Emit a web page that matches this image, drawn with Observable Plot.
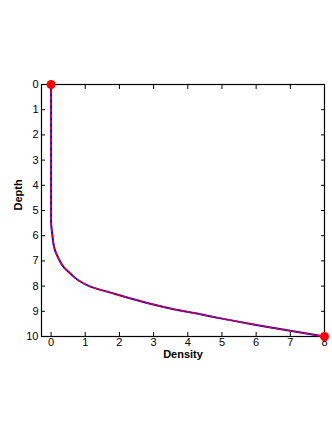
<!DOCTYPE html>
<html>
<head>
<meta charset="utf-8">
<script src="https://cdn.jsdelivr.net/npm/d3@7"></script>
<script src="https://cdn.jsdelivr.net/npm/@observablehq/plot@0.6"></script>
<style>
  html, body { margin: 0; padding: 0; background: #fff; }
</style>
</head>
<body>
<div id="chart"></div>
<script>
const depth   = [0, 1, 2, 3, 4, 5, 5.4, 6, 6.6, 6.85, 7.25, 7.51, 7.78, 8.02, 8.26, 8.6, 8.89, 9.12, 9.29, 9.54, 10];
const density = [0, 0, 0, 0, 0, 0, 0, 0.04, 0.12, 0.2, 0.37, 0.57, 0.81, 1.15, 1.74, 2.62, 3.49, 4.37, 5, 6, 8];
const endDepth   = [0, 10];
const endDensity = [0, 8];
const xTicks = [0, 1, 2, 3, 4, 5, 6, 7, 8];
const yTicks = [0, 1, 2, 3, 4, 5, 6, 7, 8, 9, 10];
const xLabel = "Density";
const yLabel = "Depth";

const curve = depth.map((d, i) => ({depth: d, density: density[i]}));
const ends = endDepth.map((d, i) => ({depth: d, density: endDensity[i]}));

const chart = Plot.plot({
  width: 332,
  height: 430,
  marginLeft: 41,
  marginRight: 8,
  marginTop: 84,
  marginBottom: 94,
  style: {fontFamily: "Liberation Sans, Arial, sans-serif", fontSize: "11px", background: "#fff", color: "#000"},
  x: {domain: [-0.28, 8]},
  y: {domain: [0, 10], reverse: true},
  marks: [
    Plot.frame({stroke: "#000", strokeWidth: 1.2}),
    Plot.axisX({anchor: "bottom", ticks: xTicks, tickSize: 0, tickPadding: 2, label: null, fontSize: 11}),
    Plot.axisX({anchor: "bottom", ticks: xTicks, tickSize: -4, text: null, label: null}),
    Plot.axisX({anchor: "top", ticks: xTicks, tickSize: -4, text: null, label: null}),
    Plot.axisY({anchor: "left", ticks: yTicks, tickSize: 0, tickPadding: 3, label: null, fontSize: 11}),
    Plot.axisY({anchor: "left", ticks: yTicks, tickSize: -4, text: null, label: null}),
    Plot.axisY({anchor: "right", ticks: yTicks, tickSize: -4, text: null, label: null}),
    Plot.line(curve, {x: "density", y: "depth", stroke: "#0000ff", strokeWidth: 2, curve: "monotone-y"}),
    Plot.line(curve, {x: "density", y: "depth", stroke: "#ff0000", strokeWidth: 1.5, strokeDasharray: "3,3", curve: "monotone-y"}),
    Plot.dot(ends, {x: "density", y: "depth", r: 4.5, fill: "#ff0000", stroke: "none"}),
    Plot.text([xLabel], {frameAnchor: "bottom", dy: 21, text: d => d, fontWeight: "bold", fontSize: 11}),
    Plot.text([yLabel], {frameAnchor: "left", dx: -23, rotate: -90, text: d => d, fontWeight: "bold", fontSize: 11})
  ]
});
document.getElementById("chart").appendChild(chart);
</script>
</body>
</html>
